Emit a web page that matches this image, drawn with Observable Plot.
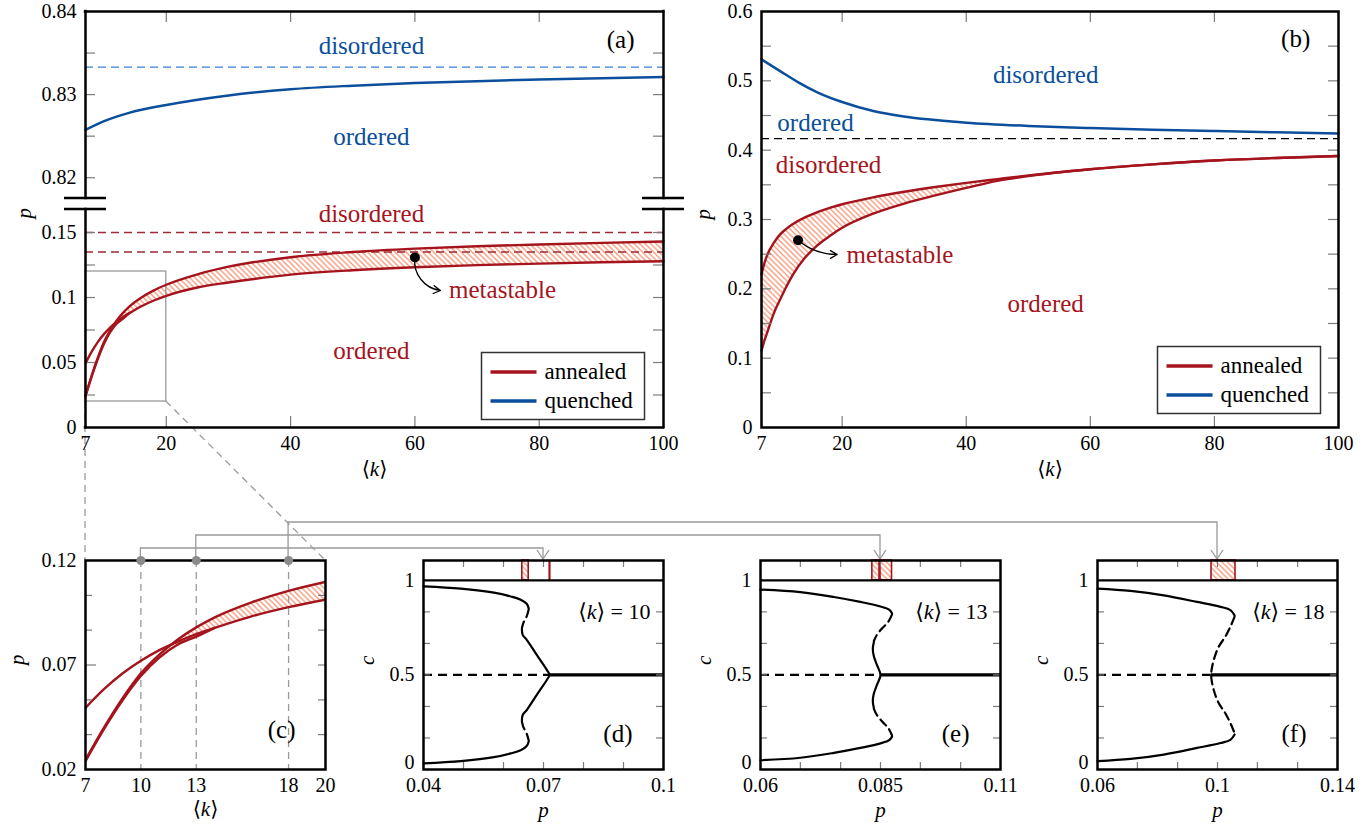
<!DOCTYPE html>
<html><head><meta charset="utf-8">
<script src="https://cdn.jsdelivr.net/npm/d3@7"></script>
<script src="https://cdn.jsdelivr.net/npm/@observablehq/plot@0.6"></script>
<style>
html,body{margin:0;padding:0;background:#fff;overflow:hidden}
#page{position:relative;width:1372px;height:830px;font-family:"Liberation Serif",serif}
#page svg{position:absolute;left:0;top:0}
</style></head>
<body>
<svg width="0" height="0" style="position:absolute">
  <defs>
    <pattern id="hatch" patternUnits="userSpaceOnUse" width="5.5" height="5.5">
      <path d="M-1,-1 L6.5,6.5 M-1,4.5 L1,6.5 M4.5,-1 L6.5,1" stroke="#f39474" stroke-width="1.3" fill="none"/>
    </pattern>
  </defs>
</svg>
<div id="page"></div>
<script>
// ---------------- data ----------------
const kDomain = [7, 100];
const kTickLabels = [7, 20, 40, 60, 80, 100];
const kTickMarks = [20, 40, 60, 80];

// panel (a) – broken p axis
const pDomainUpperA = [0.8175, 0.84];
const pDomainLowerA = [0, 0.1677];
const pLabelsUpperA = [0.82, 0.83, 0.84];
const pMarksUpperA = [0.82, 0.825, 0.83, 0.835];
const pLabelsLowerA = [0, 0.05, 0.1, 0.15];
const pMarksLowerA = [0.025, 0.05, 0.075, 0.1, 0.125, 0.15];

// quenched (a)
const kQA = [7, 10, 14, 20, 30, 40, 50, 60, 70, 80, 90, 100];
const pQA = [0.82575, 0.8268, 0.8278, 0.82875, 0.8299, 0.83065, 0.83108, 0.8314, 0.83162, 0.83182, 0.83198, 0.83213];
const quenchedLimitA = [0.8333];
const annealedLimitsA = [0.15, 0.135];

// annealed (a): continuous transition and saddle-node folds
const kA = [7, 8, 9, 10, 11, 12, 13, 14, 16, 18, 20, 25, 30, 40, 50, 60, 70, 80, 90, 100];
const pcA = [0.0495, 0.0584, 0.0659, 0.0720, 0.0771, 0.0812, 0.0848, 0.0878, 0.0933, 0.0977, 0.1013, 0.1077, 0.1115, 0.1176, 0.1210, 0.1233, 0.1249, 0.1261, 0.1271, 0.1279];
const psUpA = [0.0246, 0.0400, 0.0540, 0.0660, 0.0750, 0.0822, 0.0880, 0.0928, 0.1000, 0.1055, 0.1098, 0.1178, 0.1237, 0.1310, 0.1350, 0.1376, 0.1394, 0.1408, 0.1420, 0.1431];
const kLowA = [7, 8, 9, 10, 11, 12, 13, 14];
const psLowA = [0.0240, 0.0393, 0.0530, 0.0647, 0.0735, 0.0798, 0.0836, 0.0878];

// zoom window shown in (c)
const zoomK = [7, 20];
const zoomP = [0.02, 0.12];

// panel (b)
const pDomainB = [0, 0.6];
const pLabelsB = [0, 0.1, 0.2, 0.3, 0.4, 0.5, 0.6];
const pMarksB = [0.05, 0.1, 0.15, 0.2, 0.25, 0.3, 0.35, 0.4, 0.45, 0.5, 0.55];
const kQB = [7, 10, 13, 16, 20, 25, 30, 40, 50, 60, 70, 80, 90, 100];
const pQB = [0.531, 0.514, 0.4975, 0.4835, 0.4694, 0.4565, 0.4485, 0.4397, 0.4350, 0.4319, 0.4295, 0.4276, 0.4258, 0.4242];
const limitB = [0.4167];
const kB = [7, 7.5, 8, 9, 10, 11, 12, 14, 16, 18, 20, 25, 30, 35, 40, 45, 50, 60, 70, 80, 90, 100];
const pUpB = [0.2208, 0.2380, 0.2505, 0.2665, 0.2785, 0.2865, 0.2930, 0.3030, 0.3105, 0.3168, 0.3220, 0.3320, 0.3400, 0.3468, 0.3528, 0.3582, 0.3635, 0.3725, 0.3795, 0.3850, 0.3888, 0.3915];
const pLowB = [0.1110, 0.1260, 0.1390, 0.1650, 0.1845, 0.2030, 0.2195, 0.2447, 0.2627, 0.2762, 0.2880, 0.3084, 0.3230, 0.3347, 0.3455, 0.3558, 0.3627, 0.3725, 0.3795, 0.3850, 0.3888, 0.3915];

// panel (c)
const kLabelsC = [7, 10, 13, 18, 20];
const pLabelsC = [0.02, 0.07, 0.12];
const pMarksC = [0.0367, 0.0533, 0.0867, 0.1033];

// slices (d), (e), (f)
const kSlices = [10, 13, 18];
const cDomain = [0, 1.105];
const cLabels = [0, 0.5, 1];
const cMarks = [0.1667, 0.3333, 0.5, 0.6667, 0.8333];
const cSym = 0.5;

const dDomain = [0.04, 0.1];
const dLabels = [0.04, 0.07, 0.1];
const dMarks = [0.05, 0.06, 0.07, 0.08, 0.09];
const d_upper = [[0.04,0.968],[0.0493,0.956],[0.0576,0.935],[0.0618,0.915],[0.0643,0.898],[0.0658,0.876],[0.0663,0.852]];
const d_upperDash = [[0.0663,0.846],[0.0658,0.81],[0.065,0.777],[0.0646,0.748]];
const d_middle = [[0.0646,0.742],[0.0648,0.712],[0.0659,0.683],[0.0684,0.603],[0.0709,0.524],[0.0715,0.5],[0.0709,0.476],[0.0684,0.397],[0.0659,0.317],[0.0648,0.288],[0.0646,0.258]];
const d_lowerDash = [[0.0646,0.252],[0.065,0.223],[0.0658,0.19],[0.0663,0.154]];
const d_lower = [[0.0663,0.148],[0.0658,0.124],[0.0643,0.102],[0.0618,0.085],[0.0576,0.065],[0.0493,0.044],[0.04,0.032]];
const d_metastable = [[0.0647, 0.0663]];
const d_critical = [0.0715];

const eDomain = [0.06, 0.11];
const eLabels = [0.06, 0.085, 0.11];
const eMarks = [0.0683, 0.0767, 0.085, 0.0933, 0.1017];
const e_upper = [[0.06,0.951],[0.0683,0.938],[0.0753,0.912],[0.0808,0.886],[0.085,0.862],[0.0868,0.845],[0.0874,0.826]];
const e_upperDash = [[0.0874,0.82],[0.0866,0.78],[0.0853,0.745],[0.0842,0.71],[0.0836,0.678]];
const e_middle = [[0.0836,0.672],[0.0834,0.64],[0.0836,0.6],[0.0843,0.55],[0.085,0.5],[0.0843,0.45],[0.0836,0.4],[0.0834,0.36],[0.0836,0.328]];
const e_lowerDash = [[0.0836,0.322],[0.0842,0.29],[0.0853,0.255],[0.0866,0.22],[0.0874,0.18]];
const e_lower = [[0.0874,0.174],[0.0868,0.155],[0.085,0.138],[0.0808,0.114],[0.0753,0.088],[0.0683,0.062],[0.06,0.049]];
const e_metastable = [[0.0833, 0.0848], [0.085, 0.0874]];
const e_critical = [];

const fDomain = [0.06, 0.14];
const fLabels = [0.06, 0.1, 0.14];
const fMarks = [0.0733, 0.0867, 0.1, 0.1133, 0.1267];
const f_upper = [[0.06,0.956],[0.071,0.944],[0.0821,0.921],[0.0932,0.886],[0.101,0.86],[0.1043,0.843],[0.1057,0.815]];
const f_dash = [[0.1057,0.808],[0.1045,0.762],[0.1027,0.705],[0.1003,0.646],[0.0987,0.577],[0.098,0.524],[0.0979,0.5],[0.098,0.476],[0.0987,0.423],[0.1003,0.354],[0.1027,0.295],[0.1045,0.238],[0.1057,0.192]];
const f_lower = [[0.1057,0.185],[0.1043,0.157],[0.101,0.14],[0.0932,0.114],[0.0821,0.079],[0.071,0.056],[0.06,0.044]];
const f_metastable = [[0.098, 0.106]];
const f_critical = [];

const pTransSlices = [0.0715, 0.085, 0.0979];

// ---------------- helpers ----------------
const W = 1372, H = 830;
const FONT = "'Liberation Serif', 'DejaVu Serif', serif";
const RED = "#a5141d", BLUE = "#0b4f9c", TICK = "#7c7c7c", CONN = "#9a9a9a";
const fmt = d => String(d);
const page = document.getElementById("page");

function box(L, R, T, B) { return {width: W, height: H, marginLeft: L, marginRight: W - R, marginTop: T, marginBottom: H - B}; }
function xTicks(vals, inner, len, side) {
  return Plot.tickX(vals, {x: d => d, stroke: TICK, strokeWidth: 1.2,
    insetTop: side === "bottom" ? inner - len : 0, insetBottom: side === "top" ? inner - len : 0});
}
function yTicks(vals, inner, len, side) {
  return Plot.tickY(vals, {y: d => d, stroke: TICK, strokeWidth: 1.2,
    insetRight: side === "left" ? inner - len : 0, insetLeft: side === "right" ? inner - len : 0});
}
function xAxis(vals, pad = 8) { return Plot.axisX(vals, {anchor: "bottom", tickSize: 0, tickPadding: pad, tickFormat: fmt, fontSize: 20, label: null}); }
function yAxis(vals, dy = 0) { return Plot.axisY(vals, {anchor: "left", tickSize: 0, tickPadding: 9, tickFormat: fmt, fontSize: 20, label: null, dy}); }
function make(b, x, y, marks) {
  return Plot.plot({...b, style: `background: transparent; font-family: ${FONT}; font-size: 20px; overflow: visible;`,
    x: {...x, axis: null}, y: {...y, axis: null}, marks});
}
function italicK(svg) {
  const ns = "http://www.w3.org/2000/svg";
  svg.querySelectorAll("text").forEach(t => {
    const s = t.textContent; const i = s.indexOf("⟨k⟩");
    if (i < 0 || t.children.length) return;
    t.textContent = "";
    const add = (str, it) => { if (!str) return; const ts = document.createElementNS(ns, "tspan"); ts.textContent = str; if (it) ts.setAttribute("font-style", "italic"); t.appendChild(ts); };
    add(s.slice(0, i + 1)); add("k", true); add(s.slice(i + 2));
  });
}
const frameLine = {stroke: "black", strokeWidth: 2.5, strokeLinecap: "square"};

// derived tables
const qA = kQA.map((k, i) => ({k, p: pQA[i]}));
const pcLine = kA.map((k, i) => ({k, p: pcA[i]}));
const psUpLine = kA.map((k, i) => ({k, p: psUpA[i]}));
const psLowLine = kLowA.map((k, i) => ({k, p: psLowA[i]}));
const kJoin = kLowA[kLowA.length - 1];
const bandA = kA.map((k, i) => ({k, lo: k <= kJoin ? psLowA[kLowA.indexOf(k)] : pcA[i], hi: psUpA[i]}));
const qB = kQB.map((k, i) => ({k, p: pQB[i]}));
const upB = kB.map((k, i) => ({k, p: pUpB[i]}));
const lowB = kB.map((k, i) => ({k, p: pLowB[i]}));
const bandB = kB.map((k, i) => ({k, lo: pLowB[i], hi: pUpB[i]}));
const inZoom = d => d.k <= zoomK[1];
const CURVE = "monotone-x";

// ---------------- panel (a) upper ----------------
const aUp = make(box(85, 663, 11, 198), {domain: kDomain}, {domain: pDomainUpperA}, [
  Plot.ruleY(quenchedLimitA, {stroke: "#3d7fd6", strokeWidth: 1.3, strokeDasharray: "8,5"}),
  Plot.line(qA, {x: "k", y: "p", stroke: BLUE, strokeWidth: 2.5, curve: CURVE}),
  xTicks(kTickMarks, 187, 11, "top"),
  yTicks(pMarksUpperA, 578, 10, "left"),
  yTicks(pMarksUpperA, 578, 10, "right"),
  Plot.ruleX(kDomain, frameLine),
  Plot.ruleY([pDomainUpperA[1]], frameLine),
  yAxis(pLabelsUpperA),
  Plot.text(["disordered"], {x: 53, y: 0.8358, fill: BLUE, fontSize: 25}),
  Plot.text(["ordered"], {x: 53, y: 0.8249, fill: BLUE, fontSize: 25}),
  Plot.text(["(a)"], {x: 93.1, y: 0.8366, fontSize: 25})
]);

// ---------------- panel (a) lower ----------------
const aLow = make(box(85, 663, 209, 427), {domain: kDomain}, {domain: pDomainLowerA}, [
  Plot.areaY(bandA, {x: "k", y1: "lo", y2: "hi", fill: "url(#hatch)", curve: CURVE}),
  Plot.ruleY(annealedLimitsA, {stroke: "#9e2a35", strokeWidth: 1.3, strokeDasharray: "8,5"}),
  Plot.rect([0], {x1: zoomK[0], x2: zoomK[1], y1: zoomP[0], y2: zoomP[1], fill: "none", stroke: "#999", strokeWidth: 1.3}),
  Plot.line(pcLine, {x: "k", y: "p", stroke: RED, strokeWidth: 2.4, curve: CURVE}),
  Plot.line(psUpLine, {x: "k", y: "p", stroke: RED, strokeWidth: 2.4, curve: CURVE}),
  Plot.line(psLowLine, {x: "k", y: "p", stroke: RED, strokeWidth: 2.4, curve: CURVE}),
  xTicks(kTickMarks, 218, 11, "bottom"),
  yTicks(pMarksLowerA, 578, 10, "left"),
  yTicks(pMarksLowerA, 578, 10, "right"),
  Plot.ruleX(kDomain, frameLine),
  Plot.ruleY([pDomainLowerA[0]], frameLine),
  xAxis(kTickLabels),
  yAxis(pLabelsLowerA),
  Plot.dot([0], {x: 60, y: 0.1308, r: 5, fill: "black"}),
  Plot.arrow([0], {x1: 60, y1: 0.1308, x2: 64.1, y2: 0.1054, bend: -45, stroke: "black", strokeWidth: 1.3, headLength: 9}),
  Plot.text(["metastable"], {x: 65.5, y: 0.1054, textAnchor: "start", fill: RED, fontSize: 25}),
  Plot.text(["disordered"], {x: 53, y: 0.1646, fill: RED, fontSize: 25}),
  Plot.text(["ordered"], {x: 53, y: 0.0585, fill: RED, fontSize: 25}),
  Plot.text(["p"], {frameAnchor: "top-left", dx: -69, dy: 9, rotate: -90, fontStyle: "italic", fontSize: 21}),
  Plot.text(["⟨k⟩"], {frameAnchor: "bottom", dy: 48, fontSize: 21})
]);

// ---------------- panel (b) ----------------
const bPlot = make(box(761, 1338, 11, 427), {domain: kDomain}, {domain: pDomainB}, [
  Plot.areaY(bandB, {x: "k", y1: "lo", y2: "hi", fill: "url(#hatch)", curve: CURVE}),
  Plot.ruleY(limitB, {stroke: "black", strokeWidth: 1.3, strokeDasharray: "8,5"}),
  Plot.line(qB, {x: "k", y: "p", stroke: BLUE, strokeWidth: 2.5, curve: CURVE}),
  Plot.line(upB, {x: "k", y: "p", stroke: RED, strokeWidth: 2.4, curve: CURVE}),
  Plot.line(lowB, {x: "k", y: "p", stroke: RED, strokeWidth: 2.4, curve: CURVE}),
  xTicks(kTickMarks, 416, 11, "bottom"),
  xTicks(kTickMarks, 416, 11, "top"),
  yTicks(pMarksB, 577, 10, "left"),
  yTicks(pMarksB, 577, 10, "right"),
  Plot.frame(frameLine),
  xAxis(kTickLabels),
  yAxis(pLabelsB),
  Plot.dot([0], {x: 12.9, y: 0.270, r: 5, fill: "black"}),
  Plot.arrow([0], {x1: 12.9, y1: 0.270, x2: 19.2, y2: 0.2495, bend: -20, stroke: "black", strokeWidth: 1.3, headLength: 9}),
  Plot.text(["metastable"], {x: 20.7, y: 0.2495, textAnchor: "start", fill: RED, fontSize: 25}),
  Plot.text(["disordered"], {x: 52.8, y: 0.508, fill: BLUE, fontSize: 25}),
  Plot.text(["ordered"], {x: 15.7, y: 0.4387, fill: BLUE, fontSize: 25}),
  Plot.text(["disordered"], {x: 17.8, y: 0.378, fill: RED, fontSize: 25}),
  Plot.text(["ordered"], {x: 52.8, y: 0.1775, fill: RED, fontSize: 25}),
  Plot.text(["(b)"], {x: 93.1, y: 0.5605, fontSize: 25}),
  Plot.text(["p"], {frameAnchor: "left", dx: -58, rotate: -90, fontStyle: "italic", fontSize: 21}),
  Plot.text(["⟨k⟩"], {frameAnchor: "bottom", dy: 48, fontSize: 21})
]);

// ---------------- panel (c) ----------------
const cPlot = make(box(85, 325, 560, 769), {domain: zoomK}, {domain: zoomP}, [
  Plot.areaY(bandA.filter(inZoom), {x: "k", y1: "lo", y2: "hi", fill: "url(#hatch)", curve: CURVE, clip: true}),
  Plot.ruleX(kSlices, {stroke: "#999", strokeWidth: 1.3, strokeDasharray: "7,5"}),
  Plot.line(pcLine.filter(inZoom), {x: "k", y: "p", stroke: RED, strokeWidth: 2.4, curve: CURVE, clip: true}),
  Plot.line(psUpLine.filter(inZoom), {x: "k", y: "p", stroke: RED, strokeWidth: 2.4, curve: CURVE, clip: true}),
  Plot.line(psLowLine, {x: "k", y: "p", stroke: RED, strokeWidth: 2.4, curve: CURVE, clip: true}),
  yTicks(pMarksC, 240, 7, "left"),
  yTicks(pMarksC, 240, 7, "right"),
  yTicks([pLabelsC[1]], 240, 11, "left"),
  yTicks([pLabelsC[1]], 240, 7, "right"),
  Plot.frame(frameLine),
  Plot.dot(kSlices, {x: d => d, y: zoomP[1], r: 4.5, fill: "#8a8a8a"}),
  xAxis(kLabelsC),
  yAxis(pLabelsC),
  Plot.text(["(c)"], {frameAnchor: "bottom-right", dx: -30, dy: -32, fontSize: 25}),
  Plot.text(["p"], {frameAnchor: "left", dx: -68, rotate: -90, fontStyle: "italic", fontSize: 21}),
  Plot.text(["⟨k⟩"], {frameAnchor: "bottom", dy: 46, fontSize: 21})
]);

// ---------------- slices ----------------
function slice(L, R, dom, labels, marks, solids, dashes, meta, crit, pTrans, k, letter) {
  const seg = (s, dash) => Plot.line(s, {x: d => d[0], y: d => d[1], curve: "catmull-rom", stroke: "black", strokeWidth: 2.2, strokeDasharray: dash ? "8,5" : null});
  return make(box(L, R, 560, 769), {domain: dom}, {domain: cDomain}, [
    Plot.rect(meta, {x1: d => d[0], x2: d => d[1], y1: 1, y2: cDomain[1], fill: "url(#hatch)", stroke: RED, strokeWidth: 1.6}),
    Plot.ruleX(crit, {y1: 1, y2: cDomain[1], stroke: RED, strokeWidth: 2.2}),
    ...solids.map(s => seg(s, false)),
    ...dashes.map(s => seg(s, true)),
    Plot.ruleY([cSym], {x1: dom[0], x2: pTrans, stroke: "black", strokeWidth: 2.2, strokeDasharray: "9,6"}),
    Plot.ruleY([cSym], {x1: pTrans, x2: dom[1], stroke: "black", strokeWidth: 3.2}),
    xTicks(marks, 209, 7, "bottom"),
    xTicks(marks, 209, 7, "top"),
    yTicks(cMarks, 240, 7, "left"),
    yTicks(cMarks, 240, 7, "right"),
    Plot.ruleY([1], {stroke: "black", strokeWidth: 2.2}),
    Plot.frame(frameLine),
    xAxis(labels, 8),
    yAxis(cLabels.slice(1)),
    yAxis(cLabels.slice(0, 1), -7),
    Plot.text([`⟨k⟩ = ${k}`], {frameAnchor: "top-right", dx: -13, dy: 43, textAnchor: "end", fontSize: 22}),
    Plot.text([`(${letter})`], {frameAnchor: "bottom-right", dx: -31, dy: -28, fontSize: 25}),
    Plot.text(["c"], {frameAnchor: "left", dx: -56, rotate: -90, fontStyle: "italic", fontSize: 21}),
    Plot.text(["p"], {frameAnchor: "bottom", dy: 47, fontStyle: "italic", fontSize: 21})
  ]);
}
const dPlot = slice(423, 663, dDomain, dLabels, dMarks, [d_upper, d_middle, d_lower], [d_upperDash, d_lowerDash], d_metastable, d_critical, pTransSlices[0], kSlices[0], "d");
const ePlot = slice(760, 1000, eDomain, eLabels, eMarks, [e_upper, e_middle, e_lower], [e_upperDash, e_lowerDash], e_metastable, e_critical, pTransSlices[1], kSlices[1], "e");
const fPlot = slice(1097, 1337, fDomain, fLabels, fMarks, [f_upper, f_lower], [f_dash], f_metastable, f_critical, pTransSlices[2], kSlices[2], "f");

// ---------------- back overlay: zoom lines & connectors ----------------
const back = d3.create("svg").attr("width", W).attr("height", H);
const xa = aLow.scale("x").apply, ya = aLow.scale("y").apply;
const xc = cPlot.scale("x").apply, yc = cPlot.scale("y").apply;
[0, 1].forEach(j => {
  back.append("line").attr("x1", xa(zoomK[j])).attr("y1", ya(zoomP[0])).attr("x2", xc(zoomK[j])).attr("y2", yc(zoomP[1]))
    .attr("stroke", "#9a9a9a").attr("stroke-width", 1.3).attr("stroke-dasharray", "7,5");
});
const slicePlots = [dPlot, ePlot, fPlot];
kSlices.forEach((k, i) => {
  const sp = slicePlots[i];
  const xs = sp.scale("x").apply, ys = sp.scale("y").apply;
  const dom = sp.scale("x").domain;
  const xm = xs((dom[0] + dom[1]) / 2);
  const top = ys(cDomain[1]);
  const level = yc(zoomP[1]) - 12 - 13 * i;
  back.append("path").attr("d", `M${xc(k)},${yc(zoomP[1])}V${level}H${xm}V${top - 1}`)
    .attr("fill", "none").attr("stroke", CONN).attr("stroke-width", 1.3);
  back.append("path").attr("d", `M${xm - 6},${top - 10}L${xm},${top - 1}L${xm + 6},${top - 10}`)
    .attr("fill", "none").attr("stroke", CONN).attr("stroke-width", 1.3);
});
page.appendChild(back.node());

[aUp, aLow, bPlot, cPlot, dPlot, ePlot, fPlot].forEach(s => { italicK(s); page.appendChild(s); });

// ---------------- front overlay: axis breaks & legends ----------------
const front = d3.create("svg").attr("width", W).attr("height", H).attr("font-family", FONT);
const yUpBottom = aUp.scale("y").apply(pDomainUpperA[0]);
const yLowTop = ya(pDomainLowerA[1]);
kDomain.forEach(k => {
  [yUpBottom, yLowTop].forEach(y => {
    front.append("line").attr("x1", xa(k) - 21).attr("x2", xa(k) + 21).attr("y1", y).attr("y2", y)
      .attr("stroke", "black").attr("stroke-width", 2.5);
  });
});
function legend(x, y) {
  const g = front.append("g").attr("transform", `translate(${x},${y})`);
  g.append("rect").attr("x", 0).attr("y", 0).attr("width", 163).attr("height", 67)
    .attr("fill", "white").attr("stroke", "#333").attr("stroke-width", 1.5);
  [["annealed", RED, 19.5], ["quenched", BLUE, 48.5]].forEach(([t, c, yy]) => {
    g.append("line").attr("x1", 9).attr("x2", 55).attr("y1", yy).attr("y2", yy).attr("stroke", c).attr("stroke-width", 3.4);
    g.append("text").attr("x", 63).attr("y", yy + 6.5).attr("font-size", 23).text(t);
  });
}
legend(481.5, 352.5);
legend(1157.5, 346.5);
page.appendChild(front.node());
</script>
</body></html>
